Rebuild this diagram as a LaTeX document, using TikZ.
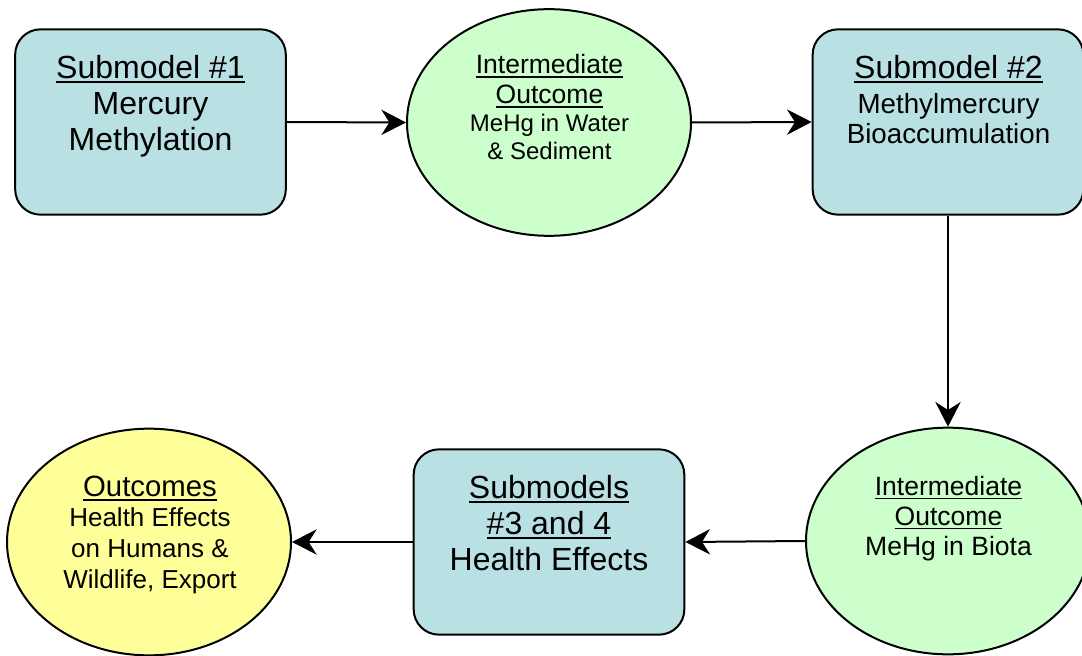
\documentclass[tikz,border=0pt]{standalone}
\usepackage{fontspec}
\setmainfont{Liberation Sans}
\usetikzlibrary{arrows.meta,shapes.geometric}
\definecolor{boxfill}{HTML}{B9E0E3}
\definecolor{greenfill}{HTML}{CCFFCC}
\definecolor{yellowfill}{HTML}{FFFF99}
\newsavebox\undlbox
\newcommand\undl[1]{\sbox\undlbox{#1}\rlap{\rule[-3.3pt]{\wd\undlbox}{1.4pt}}\usebox\undlbox}
\newcommand\fsz[2]{\fontsize{#1}{#2}\selectfont}
\begin{document}
\begin{tikzpicture}[x=0.75pt,y=-0.75pt,
  submodel/.style={draw=black,line width=1.5pt,fill=boxfill,rounded corners=19pt,
    minimum width=203pt,minimum height=139pt,inner sep=0pt},
  midout/.style={ellipse,draw=black,line width=1.5pt,fill=greenfill,
    minimum width=213pt,minimum height=170pt,inner sep=0pt},
  finalout/.style={ellipse,draw=black,line width=1.5pt,fill=yellowfill,
    minimum width=213pt,minimum height=170pt,inner sep=0pt},
  txt/.style={align=center,anchor=base,inner sep=0pt,text=black},
  arr/.style={line width=1.5pt,-{Stealth[length=18.5pt,width=19pt,inset=6pt]}}]
\fill[white] (0,0) rectangle (1082,656);
\useasboundingbox (0,0) rectangle (1082,656);
% shapes
\node[submodel] (b1) at (150.5,122) {};
\node[midout] (e1) at (549,122.5) {};
\node[submodel] (b2) at (948,122) {};
\node[midout] (e2) at (948,541) {};
\node[submodel] (b3) at (549,542) {};
\node[finalout] (e3) at (149,542) {};
% texts (anchor = baseline of the last line)
\node[txt,font=\fsz{24pt}{27pt}] (b1t) at (150.5,150.5) {\undl{Submodel \#1}\\Mercury\\Methylation};
\node[txt,font=\fsz{19.9pt}{22.5pt}] (e1t) at (549.5,103.3) {\undl{Intermediate}\\\undl{Outcome}};
\node[txt,font=\fsz{18pt}{21pt}] (e1s) at (549.5,159.5) {MeHg in Water\\\& Sediment};
\node[txt,font=\fsz{24pt}{27pt}] (b2t) at (948.5,78.3) {\undl{Submodel \#2}};
\node[txt,font=\fsz{20.8pt}{22.5pt}] (b2s) at (948.5,143.3) {Methylmercury\\Bioaccumulation};
\node[txt,font=\fsz{19.9pt}{22.5pt}] (e2t) at (948.5,555) {\undl{Intermediate}\\\undl{Outcome}\\MeHg in Biota};
\node[txt,font=\fsz{24pt}{27pt}] (b3t) at (549,570.3) {\undl{Submodels}\\\undl{\#3 and 4}\\Health Effects};
\node[txt,font=\fsz{22pt}{24pt}] (e3t) at (150,496.7) {\undl{Outcomes}};
\node[txt,font=\fsz{19.5pt}{23pt}] (e3s) at (150,588.1) {Health Effects\\on Humans \&\\Wildlife, Export};
% connectors
\draw[arr] (b1.east) -- (e1.west);
\draw[arr] (e1.east) -- (b2.west);
\draw[arr] (b2.south) -- (e2.north);
\draw[arr] (e2.west) -- (b3.east);
\draw[arr] (b3.west) -- (e3.east);
\end{tikzpicture}
\end{document}
